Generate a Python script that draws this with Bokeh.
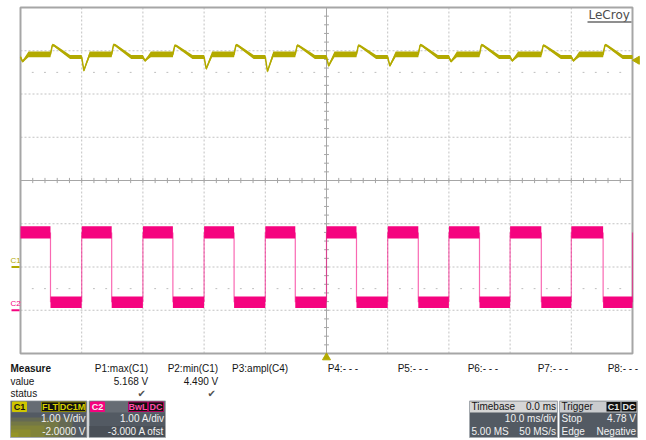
import math
from bokeh.plotting import figure
from bokeh.models import Range1d
from bokeh.core.properties import value
from bokeh.embed import file_html
from bokeh.resources import INLINE

# ---------------- acquisition settings ----------------
TIME_PER_DIV_MS = 10.0
H_DIVS = 10
V_DIVS = 8
C1_V_PER_DIV = 1.0
C1_OFFSET_V = -2.0
C2_A_PER_DIV = 1.0
C2_OFFSET_A = -3.0
TRIG_LEVEL_V = 4.78

# ---------------- C2: load current pulses (ms / A) ----------------
C2_ON_MS = [-50, -40, -30, -20, -10, 0, 10, 20, 30, 40, 50]
C2_OFF_MS = [-45.1, -35.1, -25.1, -15.1, -5.1, 4.9, 15.0, 25.0, 35.1, 45.2]
C2_HIGH_BAND_A = [1.66, 1.94]
C2_LOW_BAND_A = [0.05, 0.32]

# ---------------- C1: output voltage response (V) ----------------
C1_DIP_V = [4.72, 4.51, 4.74, 4.55, 4.49, 4.62, 4.62, 4.72, 4.74, 4.74]
C1_PEAK_V = [5.16, 5.168, 5.15, 5.16, 5.15, 5.15, 5.16, 5.16, 5.15, 5.16]
C1_LOADED_BAND_V = [4.85, 4.98]
C1_UNLOADED_BAND_V = [4.81, 4.90]

# ---------------- measurement / status readouts ----------------
MEASURE_NAMES = ["P1:max(C1)", "P2:min(C1)", "P3:ampl(C4)", "P4:- - -",
                 "P5:- - -", "P6:- - -", "P7:- - -", "P8:- - -"]
MEASURE_VALUES = ["5.168 V", "4.490 V", "", "", "", "", "", ""]
MEASURE_OK = [True, True, False, False, False, False, False, False]

C1_COLOR = "#b3aa00"
C2_COLOR = "#f5037f"
GRID_COLOR = "#c2c2c2"
AXIS_COLOR = "#a6a6a6"
PANEL_BG = "#535a63"
FONT = value("Liberation Sans")
CAP_MID = 0.36  # distance from baseline to mid-cap height, in em

# ---------------- page geometry (pixels) ----------------
W, H = 646, 440
FR_L, FR_R, FR_T, FR_B = 20, 632, 7, 353
px_per_ms = (FR_R - FR_L) / (H_DIVS * TIME_PER_DIV_MS)
px_per_div = (FR_B - FR_T) / V_DIVS
mid_y = (FR_T + FR_B) / 2
half_t = H_DIVS * TIME_PER_DIV_MS / 2

t_range = Range1d(-half_t - FR_L / px_per_ms, half_t + (W - FR_R) / px_per_ms)
div_lo = -(H - mid_y) / px_per_div
div_hi = mid_y / px_per_div
div_range = Range1d(div_lo, div_hi)
c1_range = Range1d(div_lo * C1_V_PER_DIV - C1_OFFSET_V, div_hi * C1_V_PER_DIV - C1_OFFSET_V)
c2_range = Range1d(div_lo * C2_A_PER_DIV - C2_OFFSET_A, div_hi * C2_A_PER_DIV - C2_OFFSET_A)

p = figure(width=W, height=H, x_range=Range1d(0, W), y_range=Range1d(H, 0),
           x_axis_type=None, y_axis_type=None, toolbar_location=None,
           output_backend="svg", min_border=0, title=None)
p.outline_line_color = None
p.background_fill_color = "white"
p.border_fill_color = "white"
p.extra_x_ranges = {"t": t_range}
p.extra_y_ranges = {"div": div_range, "c1": c1_range, "c2": c2_range}

TD = dict(x_range_name="t", y_range_name="div")

# ---------------- graticule ----------------
gx = [-half_t + i * TIME_PER_DIV_MS for i in range(1, H_DIVS) if i != H_DIVS // 2]
p.segment(x0=gx, y0=[-V_DIVS / 2] * len(gx), x1=gx, y1=[V_DIVS / 2] * len(gx),
          line_color=GRID_COLOR, line_dash="2 2", line_width=1, **TD)
gy = [-V_DIVS / 2 + j for j in range(1, V_DIVS) if j != V_DIVS // 2]
p.segment(x0=[-half_t] * len(gy), y0=gy, x1=[half_t] * len(gy), y1=gy,
          line_color=GRID_COLOR, line_dash="2 2", line_width=1, **TD)

# faint subdivision dots on the +/-2.5 div rows
sub_t = [-half_t + k * TIME_PER_DIV_MS / 5 for k in range(1, H_DIVS * 5) if k % 5 != 0]
for row in (2.5, -2.5):
    p.segment(x0=[s - 0.15 for s in sub_t], y0=[row] * len(sub_t),
              x1=[s + 0.15 for s in sub_t], y1=[row] * len(sub_t),
              line_color="#bdbdbd", line_width=1, **TD)

# centre cross with minor ticks
p.segment(x0=[-half_t, 0], y0=[0, -V_DIVS / 2], x1=[half_t, 0], y1=[0, V_DIVS / 2],
          line_color=AXIS_COLOR, line_width=1, **TD)
tick_t = [-half_t + k * TIME_PER_DIV_MS / 5 for k in range(1, H_DIVS * 5)]
p.segment(x0=tick_t, y0=[-0.06] * len(tick_t), x1=tick_t, y1=[0.06] * len(tick_t),
          line_color=AXIS_COLOR, line_width=1, **TD)
tick_d = [-V_DIVS / 2 + k * 0.2 for k in range(1, V_DIVS * 5)]
p.segment(x0=[-0.4] * len(tick_d), y0=tick_d, x1=[0.4] * len(tick_d), y1=tick_d,
          line_color=AXIS_COLOR, line_width=1, **TD)

p.quad(left=[-half_t], right=[half_t], bottom=[-V_DIVS / 2], top=[V_DIVS / 2],
       fill_color=None, line_color=AXIS_COLOR, line_width=2, **TD)

# ---------------- C1 trace (noise envelope + centre line) ----------------
c1_t, c1_lo, c1_hi = [], [], []


def c1_pt(tt, lo, hi):
    c1_t.append(tt)
    c1_lo.append(lo)
    c1_hi.append(hi)


u_lo, u_hi = C1_UNLOADED_BAND_V
l_lo, l_hi = C1_LOADED_BAND_V
for i in range(len(C2_OFF_MS)):
    tr, tf = C2_ON_MS[i], C2_OFF_MS[i]
    dip, pk = C1_DIP_V[i], C1_PEAK_V[i]
    c1_pt(tr, u_lo, u_hi)
    c1_pt(tr + 0.35, dip, dip + 0.06)
    c1_pt(tr + 0.8, (dip + l_lo) / 2, (dip + l_hi) / 2 + 0.02)
    c1_pt(tr + 1.3, l_lo, l_hi)
    c1_pt(tf, l_lo, l_hi)
    c1_pt(tf + 0.3, pk - 0.06, pk)
    c1_pt(tf + 0.6, pk - 0.07, pk - 0.01)
    c1_pt(tf + 3.2, u_lo, u_hi)
c1_pt(C2_ON_MS[-1], u_lo, u_hi)
c1_mid = [(a + b) / 2 for a, b in zip(c1_lo, c1_hi)]

p.varea(x=c1_t, y1=c1_lo, y2=c1_hi, fill_color=C1_COLOR, x_range_name="t", y_range_name="c1")
p.line(x=c1_t, y=c1_mid, line_color=C1_COLOR, line_width=1.5, x_range_name="t", y_range_name="c1")

# ---------------- C2 trace ----------------
c2_t, c2_lo, c2_hi = [], [], []
for i in range(len(C2_OFF_MS)):
    on, off, nxt = C2_ON_MS[i], C2_OFF_MS[i], C2_ON_MS[i + 1]
    c2_t += [on, off, off, nxt]
    c2_lo += [C2_HIGH_BAND_A[0], C2_HIGH_BAND_A[0], C2_LOW_BAND_A[0], C2_LOW_BAND_A[0]]
    c2_hi += [C2_HIGH_BAND_A[1], C2_HIGH_BAND_A[1], C2_LOW_BAND_A[1], C2_LOW_BAND_A[1]]
p.varea(x=c2_t, y1=c2_lo, y2=c2_hi, fill_color=C2_COLOR, x_range_name="t", y_range_name="c2")

low_c = sum(C2_LOW_BAND_A) / 2
high_c = sum(C2_HIGH_BAND_A) / 2
edges = C2_ON_MS[1:] + C2_OFF_MS
p.segment(x0=edges, y0=[low_c] * len(edges), x1=edges, y1=[high_c] * len(edges),
          line_color=C2_COLOR, line_alpha=0.6, line_width=1.2,
          x_range_name="t", y_range_name="c2")


# ---------------- text helper (y given as baseline) ----------------
def txt(x, y, s, color="#151515", size=10, align="left", bold=False, font=FONT, **kw):
    p.text(x=[x], y=[y], text=[s], text_color=color, text_font_size=f"{size}px",
           text_align=align, text_baseline="middle", text_font=font,
           text_font_style="bold" if bold else "normal",
           y_offset=-CAP_MID * size + kw.pop("y_offset", 0), **kw)


# ---------------- channel ground markers & trigger markers ----------------
p.segment(x0=[11], y0=[0], x1=[19], y1=[0], line_color=C1_COLOR, line_width=2, y_range_name="c1")
txt(10, 0, "C1", color=C1_COLOR, size=8, y_offset=-3.5, y_range_name="c1")
p.segment(x0=[11], y0=[0], x1=[19], y1=[0], line_color=C2_COLOR, line_width=2, y_range_name="c2")
txt(10, 0, "C2", color=C2_COLOR, size=8, y_offset=-3.5, y_range_name="c2")

p.scatter(x=[636.5], y=[TRIG_LEVEL_V], marker="triangle", angle=math.pi / 2, size=8,
          fill_color=C1_COLOR, line_color=C1_COLOR, y_range_name="c1")
p.scatter(x=[0], y=[357], marker="triangle", size=8, fill_color=C1_COLOR,
          line_color=C1_COLOR, x_range_name="t")

# ---------------- logo ----------------
txt(588, 18.5, "LeCroy", color="#4d4d4d", size=12, font=value("DejaVu Sans"))
p.segment(x0=[587], y0=[21.5], x1=[631], y1=[21.5], line_color="#6a6a6a", line_width=1.3)

# ---------------- readout panel ----------------
txt(10, 372, "Measure", bold=True)
txt(10, 384.5, "value")
txt(10, 397, "status")
for k, name in enumerate(MEASURE_NAMES):
    right = 147.7 + 70 * k
    txt(right, 372, name, align="right")
    if MEASURE_VALUES[k]:
        txt(right, 384.5, MEASURE_VALUES[k], align="right")
    if MEASURE_OK[k]:
        txt(right - 6.5, 396.5, "\u2714", color="#505050", size=10, align="center",
            font=value("DejaVu Sans"))


def box(l, r, t, b, fill=PANEL_BG, line="#a4a9ae"):
    p.quad(left=[l], right=[r], top=[t], bottom=[b], fill_color=fill, line_color=line, line_width=1)


def badge(l, r, s, fill, text_color, edge):
    p.quad(left=[l], right=[r], top=[401.5], bottom=[411], fill_color=fill,
           line_color=edge, line_width=1)
    txt((l + r) / 2, 409.5, s, color=text_color, size=9, align="center", bold=True)


# C1 channel box
box(10, 86.5, 400.5, 437)
p.quad(left=[10.5], right=[86], top=[401], bottom=[412], fill_color="#666c74", line_color=None)
for rr, tt in [(72, 417), (58, 421), (44, 425), (30, 429), (18, 432)]:
    p.quad(left=[10.5], right=[rr], top=[tt], bottom=[436.5], fill_color="#c8c000",
           fill_alpha=0.16, line_color=None)
badge(12, 26, "C1", "#cfc600", "#151515", "#cfc600")
badge(41, 58, "FLT", "#111111", "#d8d000", "#8a8400")
badge(59, 85, "DC1M", "#111111", "#d8d000", "#8a8400")
txt(85, 421.5, "1.00 V/div", color="#f2f2f2", align="right")
txt(85, 435, "-2.0000 V", color="#f2f2f2", align="right")

# C2 channel box
box(88.5, 165, 400.5, 437)
p.quad(left=[89], right=[164.5], top=[401], bottom=[412], fill_color="#666c74", line_color=None)
p.quad(left=[89], right=[164.5], top=[425.5], bottom=[436.5], fill_color="#4a5058", line_color=None)
badge(90, 104, "C2", C2_COLOR, "#f4f4f4", C2_COLOR)
badge(128, 147, "BwL", "#111111", "#ff4aa8", "#b0005a")
badge(148, 163, "DC", "#111111", "#ff4aa8", "#b0005a")
txt(164, 421.5, "1.00 A/div", color="#f2f2f2", align="right")
txt(164, 435, "-3.000 A ofst", color="#f2f2f2", align="right")

# Timebase box
box(469, 557, 400.5, 437)
p.quad(left=[469.5], right=[556.5], top=[401], bottom=[412], fill_color="#d6d6d6", line_color=None)
txt(471, 410, "Timebase")
txt(555.5, 410, "0.0 ms", align="right")
txt(555.5, 422, "10.0 ms/div", color="#f2f2f2", align="right")
txt(471, 435, "5.00 MS", color="#f2f2f2")
txt(555.5, 435, "50 MS/s", color="#f2f2f2", align="right")

# Trigger box
box(559, 637, 400.5, 437)
p.quad(left=[559.5], right=[636.5], top=[401], bottom=[412], fill_color="#c9cbce", line_color=None)
txt(561, 410, "Trigger")
p.quad(left=[606], right=[620], top=[401.5], bottom=[411], fill_color="#111111", line_color=None)
txt(613, 409.5, "C1", color="#e8e8e8", size=9, align="center", bold=True)
p.quad(left=[621], right=[636], top=[401.5], bottom=[411], fill_color="#111111", line_color=None)
txt(628.5, 409.5, "DC", color="#e8e8e8", size=9, align="center", bold=True)
txt(561, 422, "Stop", color="#f2f2f2")
txt(635.5, 422, "4.78 V", color="#f2f2f2", align="right")
txt(561, 435, "Edge", color="#f2f2f2")
txt(635.5, 435, "Negative", color="#f2f2f2", align="right")

open("out.html", "w").write(file_html(p, INLINE))
